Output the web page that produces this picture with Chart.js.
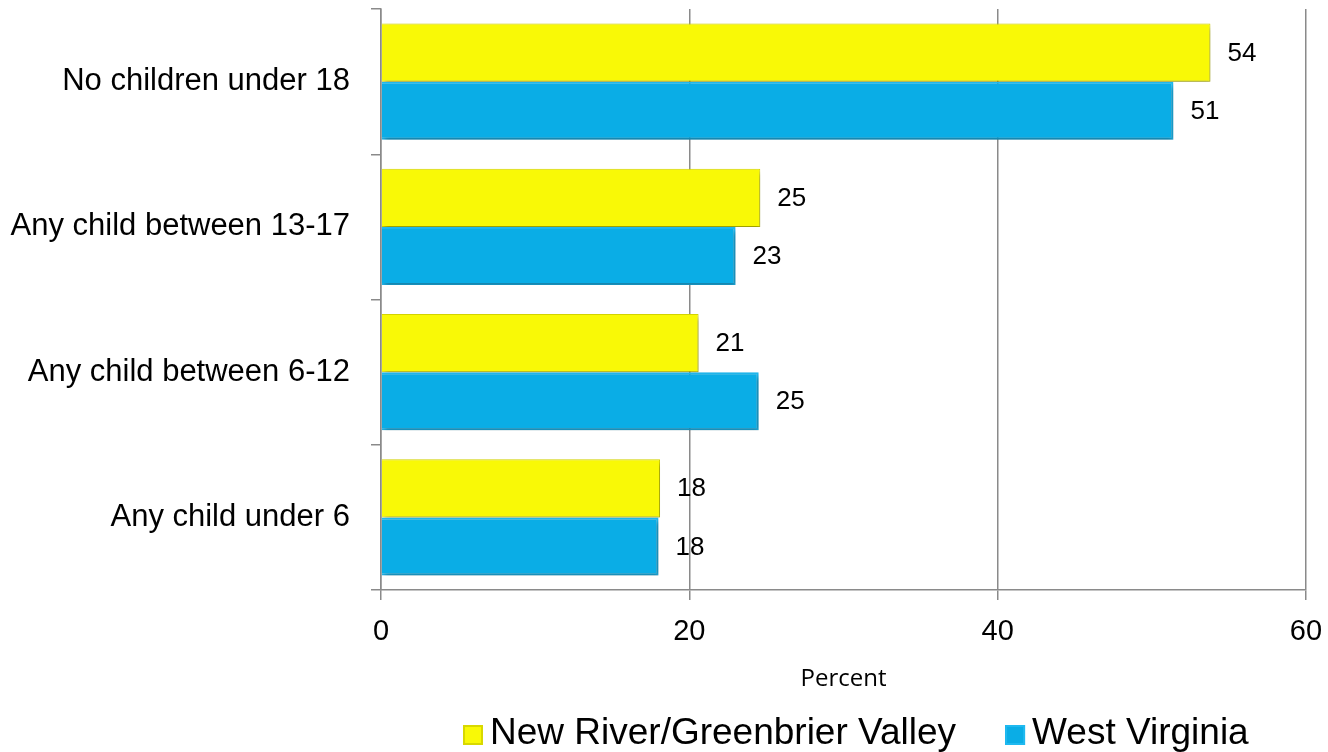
<!DOCTYPE html>
<html>
<head>
<meta charset="utf-8">
<script src="https://cdn.jsdelivr.net/npm/chart.js@4.4.1/dist/chart.umd.min.js"></script>
<style>
  html, body { margin: 0; padding: 0; background: #ffffff; }
  #wrap { width: 1328px; height: 752px; }
</style>
</head>
<body>
<div id="wrap"><canvas id="chart" width="1328" height="752"></canvas></div>
<script>
'use strict';

// Data
var categories = ['No children under 18', 'Any child between 13-17', 'Any child between 6-12', 'Any child under 6'];
var seriesNames = ['New River/Greenbrier Valley', 'West Virginia'];
var newRiverValues = [53.8, 24.6, 20.6, 18.1];
var westVirginiaValues = [51.4, 23.0, 24.5, 18.0];
var xTicks = [0, 20, 40, 60];
var axisTitle = 'Percent';

var yellow = '#f9f906';
var blue   = '#0aade6';
var gridGray = '#8a8a8a';
var arial = '"Liberation Sans", Arial, sans-serif';

/**
 * Soft drop shadow under the bars, plus value labels on the right
 */
var barDecor = {
    id: 'barDecor',
    beforeDatasetsDraw: function (chart) {
        var ctx = chart.ctx;
        ctx.save();
        ctx.shadowColor = 'rgba(0, 0, 0, 0.35)';
        ctx.shadowBlur = 5;
        ctx.shadowOffsetX = 2;
        ctx.shadowOffsetY = 3;
    },
    afterDatasetsDraw: function (chart) {
        var ctx = chart.ctx;
        ctx.restore();

        ctx.save();
        ctx.font = '26px ' + arial;
        ctx.fillStyle = '#000000';
        ctx.textAlign = 'left';
        ctx.textBaseline = 'middle';
        chart.data.datasets.forEach(function (ds, i) {
            var meta = chart.getDatasetMeta(i);
            meta.data.forEach(function (bar, j) {
                ctx.fillText(String(Math.round(ds.data[j])), bar.x + 17, bar.y + 1);
            });
        });
        ctx.restore();
    }
};

/**
 * Legend under the axis title, square swatches
 */
var bottomLegend = {
    id: 'bottomLegend',
    afterDraw: function (chart) {
        var ctx = chart.ctx;
        var x = 463;
        var cy = 734;
        ctx.save();
        ctx.font = '37px ' + arial;
        ctx.textBaseline = 'middle';
        ctx.textAlign = 'left';
        chart.data.datasets.forEach(function (ds) {
            ctx.fillStyle = ds.backgroundColor;
            ctx.fillRect(x, cy - 9, 20, 20);
            ctx.strokeStyle = ds.borderColor;
            ctx.lineWidth = 2;
            ctx.strokeRect(x + 1, cy - 8, 18, 18);
            ctx.fillStyle = '#000000';
            ctx.fillText(ds.label, x + 27, cy);
            x += 27 + ctx.measureText(ds.label).width + 49;
        });
        ctx.restore();
    }
};

new Chart(document.getElementById('chart'), {
    type: 'bar',
    data: {
        labels: categories,
        datasets: [
            {
                label: seriesNames[0],
                data: newRiverValues,
                backgroundColor: yellow,
                borderColor: '#d8d800',
                borderWidth: 1,
                borderSkipped: 'start'
            },
            {
                label: seriesNames[1],
                data: westVirginiaValues,
                backgroundColor: blue,
                borderColor: '#1fb9f0',
                borderWidth: 2,
                borderSkipped: 'start'
            }
        ]
    },
    options: {
        indexAxis: 'y',
        responsive: false,
        animation: false,
        categoryPercentage: 0.8,
        barPercentage: 1.0,
        layout: { padding: { top: 9, right: 22, left: 0, bottom: 0 } },
        plugins: {
            legend: { display: false },
            tooltip: { enabled: false }
        },
        scales: {
            x: {
                min: 0,
                max: 60,
                afterBuildTicks: function (axis) {
                    axis.ticks = xTicks.map(function (v) { return { value: v }; });
                },
                afterFit: function (axis) {
                    axis.height = 162;
                    axis.paddingLeft = 0;
                    axis.paddingRight = 0;
                },
                grid: {
                    color: gridGray,
                    lineWidth: 1.5,
                    drawOnChartArea: true,
                    drawTicks: true,
                    tickLength: 10,
                    tickColor: gridGray
                },
                border: { display: true, color: gridGray, width: 1.5 },
                ticks: {
                    color: '#000000',
                    padding: 15,
                    font: { family: arial, size: 29 }
                },
                title: {
                    display: true,
                    text: axisTitle,
                    color: '#000000',
                    font: { family: '"Open Sans", sans-serif', size: 24 },
                    padding: { top: 14, bottom: 58 }
                }
            },
            y: {
                afterFit: function (axis) {
                    axis.width = 381;
                    axis.paddingTop = 0;
                    axis.paddingBottom = 0;
                },
                grid: {
                    display: true,
                    offset: true,
                    drawOnChartArea: false,
                    drawTicks: true,
                    tickLength: 10,
                    color: gridGray,
                    tickColor: gridGray,
                    lineWidth: 1.5
                },
                border: { display: true, color: gridGray, width: 1.5 },
                ticks: {
                    color: '#000000',
                    padding: 21,
                    font: { family: arial, size: 31 }
                }
            }
        }
    },
    plugins: [barDecor, bottomLegend]
});
</script>
</body>
</html>
